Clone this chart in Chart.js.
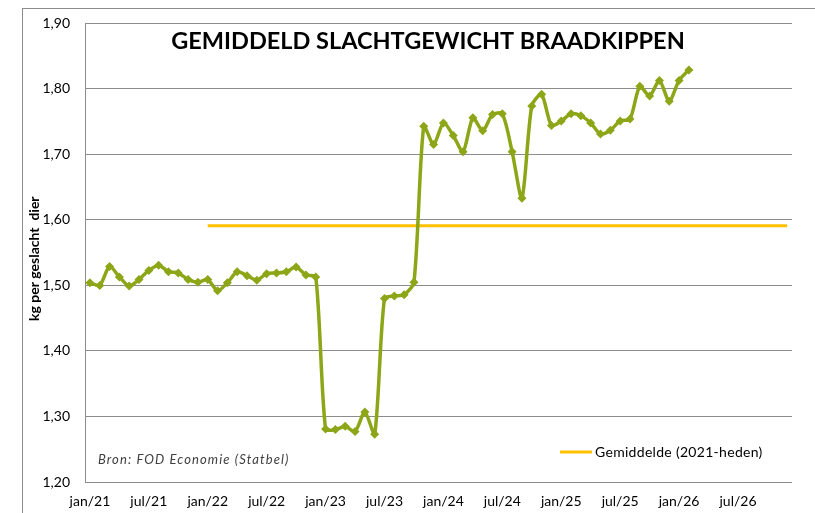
<!DOCTYPE html>
<html>
<head>
<meta charset="utf-8">
<script src="https://cdn.jsdelivr.net/npm/chart.js@4.4.1/dist/chart.umd.min.js"></script>
<style>
  body { margin: 0; background: #fff; }
  #wrap { position: relative; width: 815px; height: 513px; }
  #frame { position: absolute; left: 22px; top: 8px; width: 900px; height: 600px; border-left: 1px solid #8c8c8c; border-top: 1px solid #8c8c8c; }
  canvas { position: absolute; left: 0; top: 0; }
</style>
</head>
<body>
<div id="wrap">
  <div id="frame"></div>
  <canvas id="chart" width="815" height="513"></canvas>
</div>
<script>
// --- DATA ---
const monthNames = ['jan','feb','mrt','apr','mei','jun','jul','aug','sep','okt','nov','dec'];
const years = ['21','22','23','24','25','26'];
const months = [];
years.forEach(y => monthNames.forEach(m => months.push(m + '/' + y)));

// gemiddeld slachtgewicht (kg), jan/21 - feb/26
const weight = [
  1.504, 1.500, 1.529, 1.513, 1.499, 1.509, 1.523, 1.531, 1.521, 1.519, 1.509, 1.505,
  1.509, 1.492, 1.504, 1.521, 1.515, 1.508, 1.518, 1.519, 1.521, 1.528, 1.516, 1.513,
  1.281, 1.280, 1.285, 1.277, 1.307, 1.273, 1.480, 1.484, 1.486, 1.505, 1.743, 1.715,
  1.748, 1.729, 1.704, 1.756, 1.736, 1.761, 1.762, 1.704, 1.633, 1.774, 1.792, 1.744,
  1.751, 1.762, 1.759, 1.748, 1.731, 1.737, 1.751, 1.754, 1.804, 1.789, 1.813, 1.781,
  1.813, 1.829
];
const avgValue = 1.591;
const avgStart = 12; // line drawn from jan/22
const average = months.map((m, i) => i >= avgStart ? avgValue : null);

const titleText = 'GEMIDDELD SLACHTGEWICHT BRAADKIPPEN';
const sourceText = 'Bron: FOD Economie (Statbel)';
const yTitle = 'kg per geslacht  dier';
const avgLabel = 'Gemiddelde (2021-heden)';

const FONT = 'Lato, "Open Sans", sans-serif';

// --- overlay texts (title, source, legend, y title) ---
const overlay = {
  id: 'overlay',
  afterDraw(chart) {
    const ctx = chart.ctx, a = chart.chartArea;
    ctx.save();
    ctx.fillStyle = '#000';
    ctx.textAlign = 'center';
    ctx.textBaseline = 'middle';
    ctx.font = 'bold 23.5px ' + FONT;
    ctx.fillText(titleText, 428, 41);

    ctx.font = 'italic 13px ' + FONT;
    ctx.letterSpacing = '1.1px';
    ctx.fillStyle = '#404040';
    ctx.textAlign = 'left';
    ctx.fillText(sourceText, 98, 460);
    ctx.letterSpacing = '0px';

    // legend
    ctx.strokeStyle = '#FFC000';
    ctx.lineWidth = 3;
    ctx.beginPath(); ctx.moveTo(560, 452); ctx.lineTo(592, 452); ctx.stroke();
    ctx.fillStyle = '#000';
    ctx.font = '14px ' + FONT;
    ctx.letterSpacing = '0.3px';
    ctx.fillText(avgLabel, 595, 452);
    ctx.letterSpacing = '0px';

    // y-axis title
    ctx.translate(34, (a.top + a.bottom) / 2 + 6);
    ctx.rotate(-Math.PI / 2);
    ctx.textAlign = 'center';
    ctx.font = 'bold 14px ' + FONT;
    ctx.fillText(yTitle, 0, 0);
    ctx.restore();
  }
};

new Chart(document.getElementById('chart'), {
  type: 'line',
  data: {
    labels: months,
    datasets: [
      {
        label: 'Slachtgewicht',
        data: weight,
        borderColor: '#8CA617',
        backgroundColor: '#8CA617',
        borderWidth: 3.5,
        tension: 0.25,
        pointStyle: 'rectRot',
        pointRadius: 4.5,
        pointHoverRadius: 4.5,
        pointBorderWidth: 0
      },
      {
        label: avgLabel,
        data: average,
        borderColor: '#FFC000',
        borderWidth: 3,
        pointRadius: 0,
        tension: 0
      }
    ]
  },
  options: {
    responsive: false,
    animation: false,
    layout: { padding: { top: 21, right: 23, left: 0, bottom: 0 } },
    plugins: { legend: { display: false }, title: { display: false }, tooltip: { enabled: false } },
    scales: {
      x: {
        type: 'category',
        offset: true,
        grid: { display: false, drawTicks: false },
        border: { display: false },
        ticks: {
          autoSkip: false, maxRotation: 0, padding: 11,
          color: '#000', font: { family: FONT, size: 14 },
          callback: function(v, i) { return i % 6 === 0 ? months[i] : ''; }
        },
        afterFit(scale) { scale.height = 31; }
      },
      y: {
        min: 1.2, max: 1.9,
        grid: { color: '#8c8c8c', lineWidth: 1, drawTicks: false },
        border: { display: true, color: '#8c8c8c', width: 1 },
        ticks: {
          stepSize: 0.1, padding: 15,
          color: '#000', font: { family: FONT, size: 14 },
          callback: v => v.toFixed(2).replace('.', ',')
        },
        afterFit(scale) { scale.width = 85; }
      }
    }
  },
  plugins: [overlay]
});
</script>
</body>
</html>
